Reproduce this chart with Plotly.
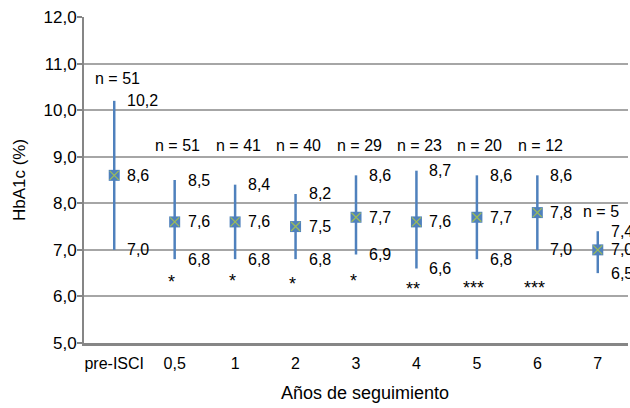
import plotly.graph_objects as go

# HbA1c follow-up after ISCI: mean with min/max range per time point
categories = ["pre-ISCI", "0,5", "1", "2", "3", "4", "5", "6", "7"]
mean_vals = [8.6, 7.6, 7.6, 7.5, 7.7, 7.6, 7.7, 7.8, 7.0]
max_vals = [10.2, 8.5, 8.4, 8.2, 8.6, 8.7, 8.6, 8.6, 7.4]
min_vals = [7.0, 6.8, 6.8, 6.8, 6.9, 6.6, 6.8, 7.0, 6.5]
n_vals = [51, 51, 41, 40, 29, 23, 20, 12, 5]
signif = ["", "*", "*", "*", "*", "**", "***", "***", ""]

# label placement (data units on the y axis)
n_label_y = [10.69, 9.25, 9.25, 9.25, 9.25, 9.25, 9.25, 9.25, 7.82]
star_y = [None, 6.32, 6.33, 6.26, 6.34, 6.16, 6.18, 6.18, None]

BLUE = "#4F81BD"
GREEN = "#9BBB59"
GRID = "#A6A6A6"
AXIS = "#868686"
FONT = "Liberation Sans, Arial, Helvetica, sans-serif"

x = list(range(len(categories)))
fmt = lambda v: f"{v:.1f}".replace(".", ",")

fig = go.Figure()
fig.add_trace(go.Scatter(
    x=x, y=mean_vals, mode="markers",
    marker=dict(symbol="square", size=11, color=BLUE, line=dict(width=0)),
    error_y=dict(type="data", symmetric=False,
                 array=[hi - m for hi, m in zip(max_vals, mean_vals)],
                 arrayminus=[m - lo for m, lo in zip(mean_vals, min_vals)],
                 color=BLUE, thickness=2.5, width=0),
    showlegend=False, hoverinfo="skip",
))
fig.add_trace(go.Scatter(
    x=x, y=mean_vals, mode="markers",
    marker=dict(symbol="x-thin", size=9, color=GREEN, line=dict(color=GREEN, width=1.3)),
    showlegend=False, hoverinfo="skip",
))

ann = []
for i in x:
    for v in (max_vals[i], mean_vals[i], min_vals[i]):
        ann.append(dict(x=i, y=v, text=fmt(v), xanchor="left", yanchor="middle",
                        xshift=11, showarrow=False))
    ann.append(dict(x=i, y=n_label_y[i], text=f"n = {n_vals[i]}", xanchor="center",
                    yanchor="middle", xshift=3, showarrow=False))
    if signif[i]:
        ann.append(dict(x=i, y=star_y[i], text=signif[i], xanchor="center",
                        yanchor="middle", xshift=-3, showarrow=False,
                        font=dict(size=18)))

# x-axis title
ann.append(dict(x=0.5165, y=-0.153, xref="paper", yref="paper",
                text="Años de seguimiento", xanchor="center", yanchor="middle",
                showarrow=False, font=dict(size=18)))

fig.update_layout(
    width=630, height=408,
    margin=dict(l=84, r=2, t=17, b=65),
    paper_bgcolor="white", plot_bgcolor="white",
    separators=", ",
    font=dict(family=FONT, size=16, color="black"),
    annotations=ann,
    xaxis=dict(
        range=[-0.5, 8.5], tickmode="array", tickvals=x, ticktext=categories,
        showgrid=False, zeroline=False, showline=True, linecolor=AXIS, linewidth=2.5,
        ticks="", ticklabelstandoff=4, tickfont=dict(size=16),
    ),
    yaxis=dict(
        range=[5, 12], dtick=1, tickformat=".1f",
        showgrid=True, gridcolor=GRID, gridwidth=1.5, zeroline=False,
        showline=True, linecolor=AXIS, linewidth=2,
        ticks="outside", ticklen=5, tickcolor=AXIS, tickwidth=1.5,
        ticklabelstandoff=-3, tickfont=dict(size=17),
        title=dict(text="HbA1c (%)", standoff=14, font=dict(size=17)),
    ),
)

fig.write_html("out.html")
